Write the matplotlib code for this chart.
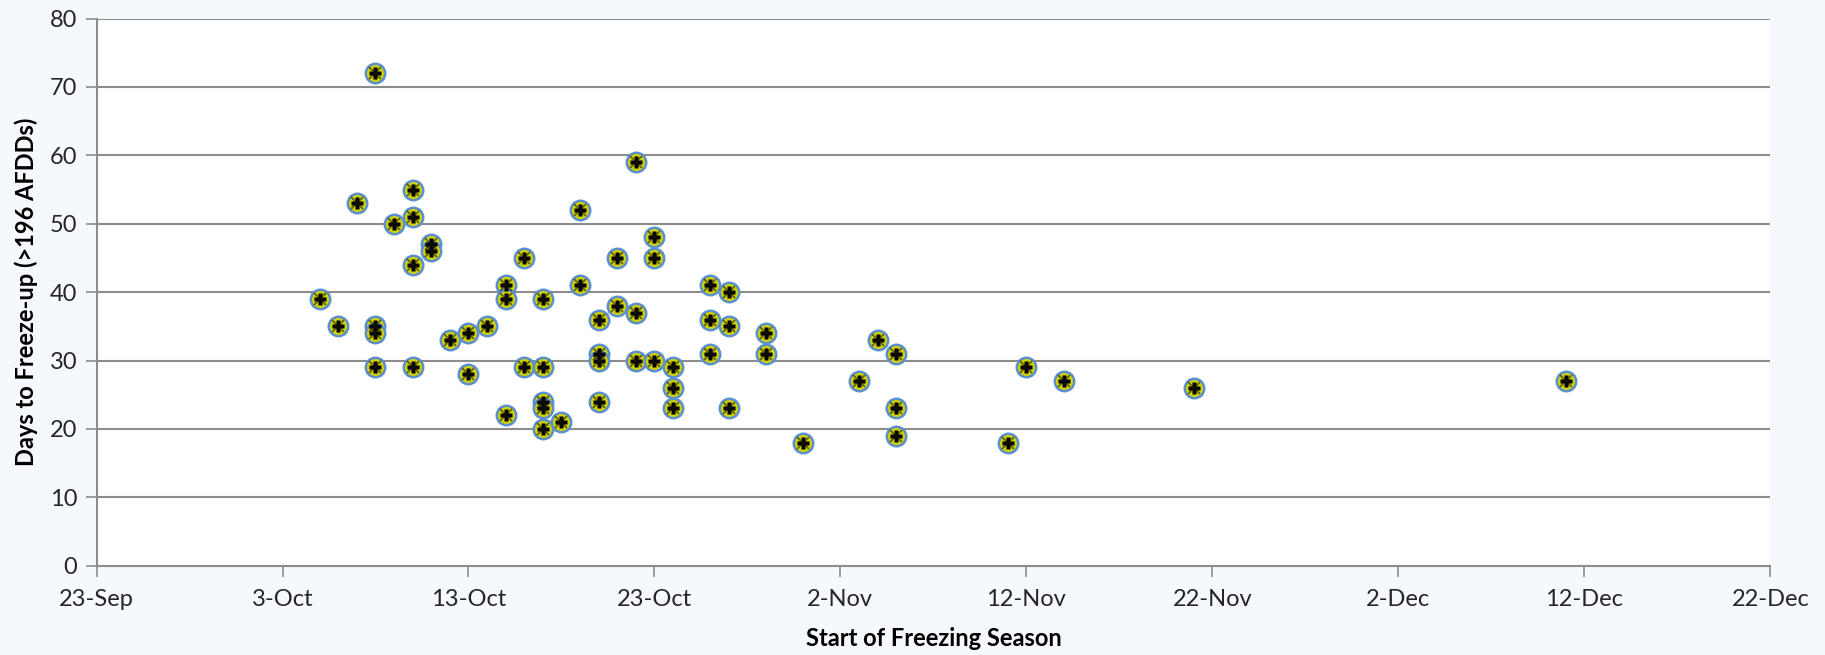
import numpy as np
import pandas as pd
import matplotlib
matplotlib.use('Agg')
import matplotlib.pyplot as plt
import matplotlib.dates as mdates

# start of freezing season (day-month) and days to freeze-up
start_dates = ['5-Oct', '6-Oct', '7-Oct', '8-Oct', '8-Oct', '8-Oct', '8-Oct',
               '9-Oct', '10-Oct', '10-Oct', '10-Oct', '10-Oct', '11-Oct', '11-Oct',
               '12-Oct', '13-Oct', '13-Oct', '14-Oct', '15-Oct', '15-Oct', '15-Oct',
               '16-Oct', '16-Oct', '17-Oct', '17-Oct', '17-Oct', '17-Oct', '17-Oct',
               '18-Oct', '19-Oct', '19-Oct', '20-Oct', '20-Oct', '20-Oct', '20-Oct',
               '21-Oct', '21-Oct', '22-Oct', '22-Oct', '22-Oct', '23-Oct', '23-Oct',
               '23-Oct', '24-Oct', '24-Oct', '24-Oct', '26-Oct', '26-Oct', '26-Oct',
               '27-Oct', '27-Oct', '27-Oct', '29-Oct', '29-Oct', '31-Oct', '3-Nov',
               '4-Nov', '5-Nov', '5-Nov', '5-Nov', '11-Nov', '12-Nov', '14-Nov',
               '21-Nov', '11-Dec']
days_to_freeze = [39, 35, 53, 72, 35, 34, 29,
                  50, 55, 51, 44, 29, 47, 46,
                  33, 34, 28, 35, 41, 39, 22,
                  45, 29, 39, 29, 24, 23, 20,
                  21, 52, 41, 36, 31, 30, 24,
                  45, 38, 59, 37, 30, 48, 45,
                  30, 29, 26, 23, 41, 36, 31,
                  40, 35, 23, 34, 31, 18, 27,
                  33, 31, 23, 19, 18, 29, 27,
                  26, 27]
tick_labels = ['23-Sep', '3-Oct', '13-Oct', '23-Oct', '2-Nov', '12-Nov',
               '22-Nov', '2-Dec', '12-Dec', '22-Dec']
y_ticks = [0, 10, 20, 30, 40, 50, 60, 70, 80]

def to_date(s):
    return pd.to_datetime([d + '-2001' for d in s], format='%d-%b-%Y')

x = to_date(start_dates)
xt = to_date(tick_labels)

plt.rcParams['font.family'] = ['Lato', 'DejaVu Sans']

fig = plt.figure(figsize=(18.25, 6.55), dpi=100)
fig.patch.set_facecolor('#f5f8fc')
ax = fig.add_axes([0.0529, 0.1363, 0.9171, 0.8353])
ax.set_facecolor('white')

grid_c = '#8c8c8c'
ax.set_ylim(0, 80)
ax.set_xlim(xt[0], xt[-1])
ax.set_yticks(y_ticks)
ax.set_xticks(xt)
ax.set_xticklabels(tick_labels)
for v in y_ticks[1:]:
    ax.axhline(v, color=grid_c, lw=1.5, zorder=1)

for side in ['top', 'right']:
    ax.spines[side].set_visible(False)
ax.spines['left'].set_color(grid_c)
ax.spines['bottom'].set_color(grid_c)
ax.spines['left'].set_linewidth(1.5)
ax.spines['bottom'].set_linewidth(1.5)
ax.tick_params(axis='both', colors=grid_c, length=8, width=1.2, labelcolor='#262626',
               labelsize=17)
ax.tick_params(axis='x', pad=9)
ax.tick_params(axis='y', pad=6)

# markers: yellow disc with blue rim and black cross pattern
ax.plot(x, days_to_freeze, 'o', ms=14, mfc='#d2d200', mec='#5b8fd0', mew=1.8,
        ls='none', zorder=3, clip_on=False)
ax.plot(x, days_to_freeze, 'P', ms=8.5, mfc='black', mec='none',
        ls='none', zorder=4, clip_on=False)
ax.plot(x, days_to_freeze, 'x', ms=9, mec='#1a1a00', mew=1.3,
        ls='none', zorder=4, clip_on=False, alpha=0.6)

ax.set_xlabel('Start of Freezing Season', fontsize=17, fontweight='bold', labelpad=12)
ax.set_ylabel('Days to Freeze-up (>196 AFDDs)', fontsize=17, fontweight='bold', labelpad=8)

fig.savefig('out.png', dpi=100, facecolor=fig.get_facecolor())
